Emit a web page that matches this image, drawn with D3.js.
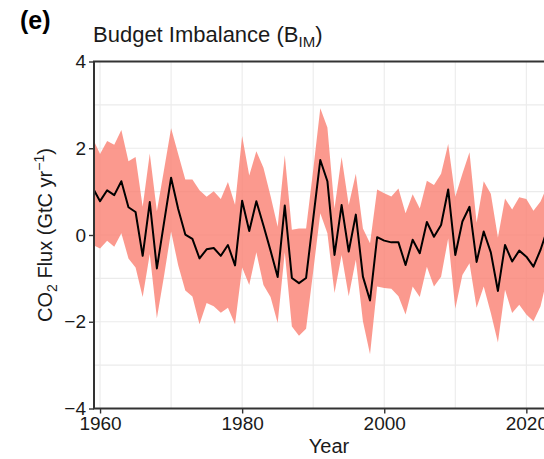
<!DOCTYPE html>
<html>
<head>
<meta charset="utf-8">
<script src="https://cdn.jsdelivr.net/npm/d3@7"></script>
<style>
  html, body { margin: 0; padding: 0; background: #fff; }
  svg { display: block; font-family: "Liberation Sans", Arial, sans-serif; }
</style>
</head>
<body>
<svg id="chart" width="544" height="459"></svg>
<script>
// Budget imbalance (GtC/yr) by year, with its uncertainty envelope
const years = d3.range(1959, 2024);
const bim = [
  1.08, 0.78, 1.03, 0.92, 1.24, 0.64, 0.53, -0.48, 0.76, -0.77,
  0.28, 1.32, 0.60, 0.01, -0.09, -0.54, -0.33, -0.30, -0.48, -0.23,
  -0.70, 0.79, 0.09, 0.78, 0.22, -0.36, -0.97, 0.68, -0.99, -1.11,
  -0.99, 0.37, 1.73, 1.24, -0.46, 0.69, -0.38, 0.47, -0.96, -1.51,
  -0.05, -0.13, -0.17, -0.17, -0.69, -0.11, -0.42, 0.30, -0.04, 0.23,
  1.05, -0.46, 0.31, 0.65, -0.62, 0.08, -0.40, -1.29, -0.23, -0.61,
  -0.36, -0.50, -0.73, -0.34, 0.15
];
const bimUpper = [
  2.22, 1.87, 2.17, 2.08, 2.42, 1.70, 1.80, 0.65, 1.88, 0.55,
  1.50, 2.46, 1.87, 1.28, 1.28, 1.03, 0.88, 1.01, 0.83, 1.22,
  0.70, 2.28, 1.37, 1.93, 1.55, 0.90, 0.19, 1.84, 0.12, 0.15,
  0.15, 1.50, 2.92, 2.48, 0.61, 1.80, 0.69, 1.41, 0.15, -0.19,
  1.05, 0.96, 0.89, 1.07, 0.50, 0.94, 0.61, 1.25, 1.15, 1.41,
  2.10, 0.88, 1.41, 1.91, 0.28, 1.24, 0.95, -0.06, 0.84, 0.59,
  0.87, 0.83, 0.56, 0.77, 1.15
];
const bimLower = [
  -0.23, -0.31, -0.13, -0.27, 0.04, -0.54, -0.75, -1.43, -0.44, -1.92,
  -0.95, 0.08, -0.70, -1.28, -1.42, -2.06, -1.57, -1.64, -1.79, -1.68,
  -2.06, -0.75, -1.15, -0.40, -1.15, -1.43, -2.03, -0.40, -2.11, -2.32,
  -2.16, -0.84, 0.50, 0.04, -1.34, -0.46, -1.41, -0.57, -1.99, -2.75,
  -1.19, -1.22, -1.24, -1.41, -1.83, -1.19, -1.43, -0.73, -1.19, -0.96,
  -0.08, -1.70, -0.92, -0.65, -1.68, -1.19, -1.80, -2.48, -1.26, -1.80,
  -1.61, -1.83, -1.99, -1.64, -0.95
];
const xTicks = [1960, 1980, 2000, 2020];
const xGrid = [1960, 1970, 1980, 1990, 2000, 2010, 2020];
const yTicks = [-4, -2, 0, 2, 4];
const yGrid = [-3, -2, -1, 0, 1, 2, 3];

const rows = years.map((yr, i) => ({ year: yr, v: bim[i], hi: bimUpper[i], lo: bimLower[i] }));

const svg = d3.select("#chart");
const L = 94, R = 564, T = 61.5, B = 408.5;

const x = d3.scaleLinear().domain([1959.15, 2025.3]).range([L, R]);
const y = d3.scaleLinear().domain([-4, 4]).range([B, T]);

svg.append("defs").append("clipPath").attr("id", "panel")
  .append("rect").attr("x", L).attr("y", T).attr("width", R - L).attr("height", B - T);

// grid
const grid = svg.append("g").attr("stroke", "#ebebeb").attr("stroke-width", 1.1);
grid.selectAll("line.gx").data(xGrid).join("line")
  .attr("x1", d => x(d)).attr("x2", d => x(d)).attr("y1", T).attr("y2", B);
grid.selectAll("line.gy").data(yGrid).join("line")
  .attr("x1", L).attr("x2", R).attr("y1", d => y(d)).attr("y2", d => y(d));

const plot = svg.append("g").attr("clip-path", "url(#panel)");

// uncertainty envelope
plot.append("path").datum(rows)
  .attr("fill", "#fa8072").attr("fill-opacity", 0.8)
  .attr("d", d3.area().x(d => x(d.year)).y0(d => y(d.lo)).y1(d => y(d.hi)));

// central estimate
plot.append("path").datum(rows)
  .attr("fill", "none").attr("stroke", "#000").attr("stroke-width", 2)
  .attr("stroke-linejoin", "round")
  .attr("d", d3.line().x(d => x(d.year)).y(d => y(d.v)));

// axes
const xAxis = svg.append("g").attr("transform", `translate(0,${B})`)
  .call(d3.axisBottom(x).tickValues(xTicks).tickFormat(d3.format("d")).tickSize(5).tickPadding(3));
const yAxis = svg.append("g").attr("transform", `translate(${L},0)`)
  .call(d3.axisLeft(y).tickValues(yTicks).tickFormat(d => d < 0 ? "\u2212" + Math.abs(d) : d).tickSize(5).tickPadding(3));
[xAxis, yAxis].forEach(g => {
  g.select(".domain").remove();
  g.selectAll(".tick line").attr("stroke", "#333").attr("stroke-width", 1.4);
  g.selectAll(".tick text").attr("fill", "#1a1a1a").style("font-size", "19px")
    .style("font-family", "Liberation Sans, Arial, sans-serif");
});

// panel frame
svg.append("rect").attr("x", L).attr("y", T).attr("width", R - L).attr("height", B - T)
  .attr("fill", "none").attr("stroke", "#333").attr("stroke-width", 2);

// titles
const title = svg.append("text").attr("x", 93).attr("y", 42)
  .attr("fill", "#1a1a1a").style("font-size", "22px");
title.append("tspan").text("Budget Imbalance (B");
title.append("tspan").attr("dy", 5).style("font-size", "15px").text("IM");
title.append("tspan").attr("dy", -5).text(")");

svg.append("text").attr("x", 20).attr("y", 29).attr("fill", "#000")
  .style("font-size", "25px").style("font-weight", "bold").text("(e)");

svg.append("text").attr("x", (L + R) / 2).attr("y", 453).attr("text-anchor", "middle")
  .attr("fill", "#1a1a1a").style("font-size", "20px").text("Year");

const ylab = svg.append("text").attr("transform", `translate(52,${(T + B) / 2}) rotate(-90)`)
  .attr("text-anchor", "middle").attr("fill", "#1a1a1a").style("font-size", "20px");
ylab.append("tspan").text("CO");
ylab.append("tspan").attr("dy", 5).style("font-size", "14px").text("2");
ylab.append("tspan").attr("dy", -5).text(" Flux (GtC yr");
ylab.append("tspan").attr("dy", -8).style("font-size", "14px").text("\u22121");
ylab.append("tspan").attr("dy", 8).text(")");
</script>
</body>
</html>
